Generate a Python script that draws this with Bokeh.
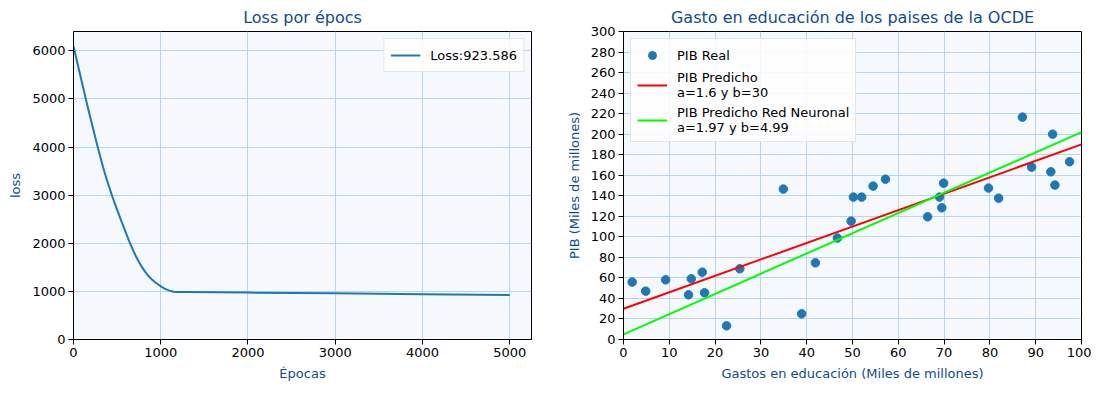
from bokeh.plotting import figure
from bokeh.layouts import row
from bokeh.models import Legend, LegendItem, FixedTicker, Range1d
from bokeh.embed import file_html
from bokeh.resources import INLINE

# ---- data: loss curve ----
epochs = [0, 35, 70, 105, 141, 175, 205, 240, 273, 310, 340, 380, 414, 450, 490,
          530, 568, 605, 644, 680, 714, 750, 784, 820, 860, 900, 936, 975,
          1011, 1040, 1070, 1100, 1125, 1150, 1182, 1300, 2000, 3000, 4000, 5000]
loss = [6090, 5818, 5548, 5278, 5000, 4745, 4525, 4270, 4030, 3775, 3575, 3330,
        3140, 2945, 2745, 2550, 2370, 2195, 2020, 1868, 1735, 1612, 1508, 1410,
        1318, 1245, 1190, 1138, 1095, 1064, 1036, 1015, 1003, 994, 989, 985, 975,
        960, 942, 923.586]

# ---- data: OECD education spending vs GDP ----
gasto = [1.9, 4.85, 9.2, 14.2, 14.8, 17.2, 17.7, 22.5, 25.4, 34.9, 38.9, 41.9,
         46.7, 49.7, 50.2, 52.0, 54.5, 57.2, 66.4, 69.0, 69.5, 69.9, 79.7, 81.9,
         87.1, 89.1, 93.3, 93.7, 94.2, 97.4]
pib = [55.9, 47.1, 58.1, 43.5, 59.1, 65.6, 45.5, 13.3, 68.9, 146.5, 25.0, 74.7,
       98.8, 115.3, 138.7, 138.7, 149.4, 156.2, 119.5, 138.7, 128.3, 152.3, 147.5,
       137.7, 216.6, 167.9, 163.3, 200.0, 150.4, 173.1]
a_lin, b_lin = 1.6, 30
a_nn, b_nn = 1.97, 4.99
x_line = [0, 100]

TITLE_COLOR = "#0f4c8c"
BG = "#f5f8fd"
GRID = "#b8d4ee"
FONT = "DejaVu Sans"


def style(p, xlabel, ylabel):
    p.background_fill_color = BG
    p.border_fill_color = "white"
    p.outline_line_color = "black"
    p.outline_line_width = 1
    p.title.text_font = FONT
    p.title.text_font_size = "16px"
    p.title.text_font_style = "normal"
    p.title.text_color = TITLE_COLOR
    p.title.align = "center"
    for ax, lab in ((p.xaxis[0], xlabel), (p.yaxis[0], ylabel)):
        ax.axis_label = lab
        ax.axis_label_text_font = FONT
        ax.axis_label_text_font_size = "13px"
        ax.axis_label_text_font_style = "normal"
        ax.axis_label_text_color = TITLE_COLOR
        ax.major_label_text_font = FONT
        ax.major_label_text_font_size = "13px"
        ax.major_label_text_color = "black"
        ax.axis_line_color = "black"
        ax.major_tick_line_color = "black"
        ax.major_tick_out = 5
        ax.major_tick_in = 0
        ax.minor_tick_line_color = None
        ax.major_label_standoff = 3
        ax.axis_label_standoff = 6
    p.xgrid.grid_line_color = GRID
    p.ygrid.grid_line_color = GRID
    p.xgrid.grid_line_width = 1
    p.ygrid.grid_line_width = 1


# ---- left: loss ----
p1 = figure(title="Loss por épocs", output_backend="svg", toolbar_location=None,
            frame_width=458, frame_height=308,
            min_border_left=73, min_border_right=20, min_border_top=28, min_border_bottom=47,
            x_range=Range1d(0, 5250), y_range=Range1d(0, 6400))
style(p1, "Épocas", "loss")
p1.xaxis.ticker = FixedTicker(ticks=[0, 1000, 2000, 3000, 4000, 5000])
p1.yaxis.ticker = FixedTicker(ticks=[0, 1000, 2000, 3000, 4000, 5000, 6000])
r_loss = p1.line(epochs, loss, line_color="#1f77b4", line_width=2, line_join="round")
leg1 = Legend(items=[LegendItem(label="Loss:923.586", renderers=[r_loss])],
              location="top_right")
p1.add_layout(leg1)

# ---- right: scatter + regressions ----
p2 = figure(title="Gasto en educación de los paises de la OCDE", output_backend="svg",
            toolbar_location=None, frame_width=458, frame_height=308,
            min_border_left=72, min_border_right=10, min_border_top=28, min_border_bottom=47,
            x_range=Range1d(0, 100), y_range=Range1d(0, 300))
style(p2, "Gastos en educación (Miles de millones)", "PIB (Miles de millones)")
p2.xaxis.ticker = FixedTicker(ticks=list(range(0, 101, 10)))
p2.yaxis.ticker = FixedTicker(ticks=list(range(0, 301, 20)))
y_lin = [a_lin * x + b_lin for x in x_line]
y_nn = [a_nn * x + b_nn for x in x_line]
r_sc = p2.scatter(gasto, pib, size=8.5, fill_color="#1f77b4", line_color="#1f77b4")
r_red = p2.line(x_line, y_lin, line_color="red", line_width=2)
r_grn = p2.line(x_line, y_nn, line_color="#00ff00", line_width=2)
leg2 = Legend(items=[
    LegendItem(label="PIB Real", renderers=[r_sc]),
    LegendItem(label="PIB Predicho\na=1.6 y b=30", renderers=[r_red]),
    LegendItem(label="PIB Predicho Red Neuronal\na=1.97 y b=4.99", renderers=[r_grn]),
], location="top_left")
p2.add_layout(leg2)

for lg in (leg1, leg2):
    lg.label_text_font = FONT
    lg.label_text_font_size = "13px"
    lg.label_text_color = "black"
    lg.background_fill_color = "white"
    lg.background_fill_alpha = 0.85
    lg.border_line_color = "#cccccc"
    lg.border_line_width = 1
    lg.margin = 7
    lg.padding = 6
    lg.spacing = 5
    lg.glyph_width = 30
    lg.label_standoff = 10

layout = row(p1, p2)
open("out.html", "w").write(file_html(layout, INLINE))
